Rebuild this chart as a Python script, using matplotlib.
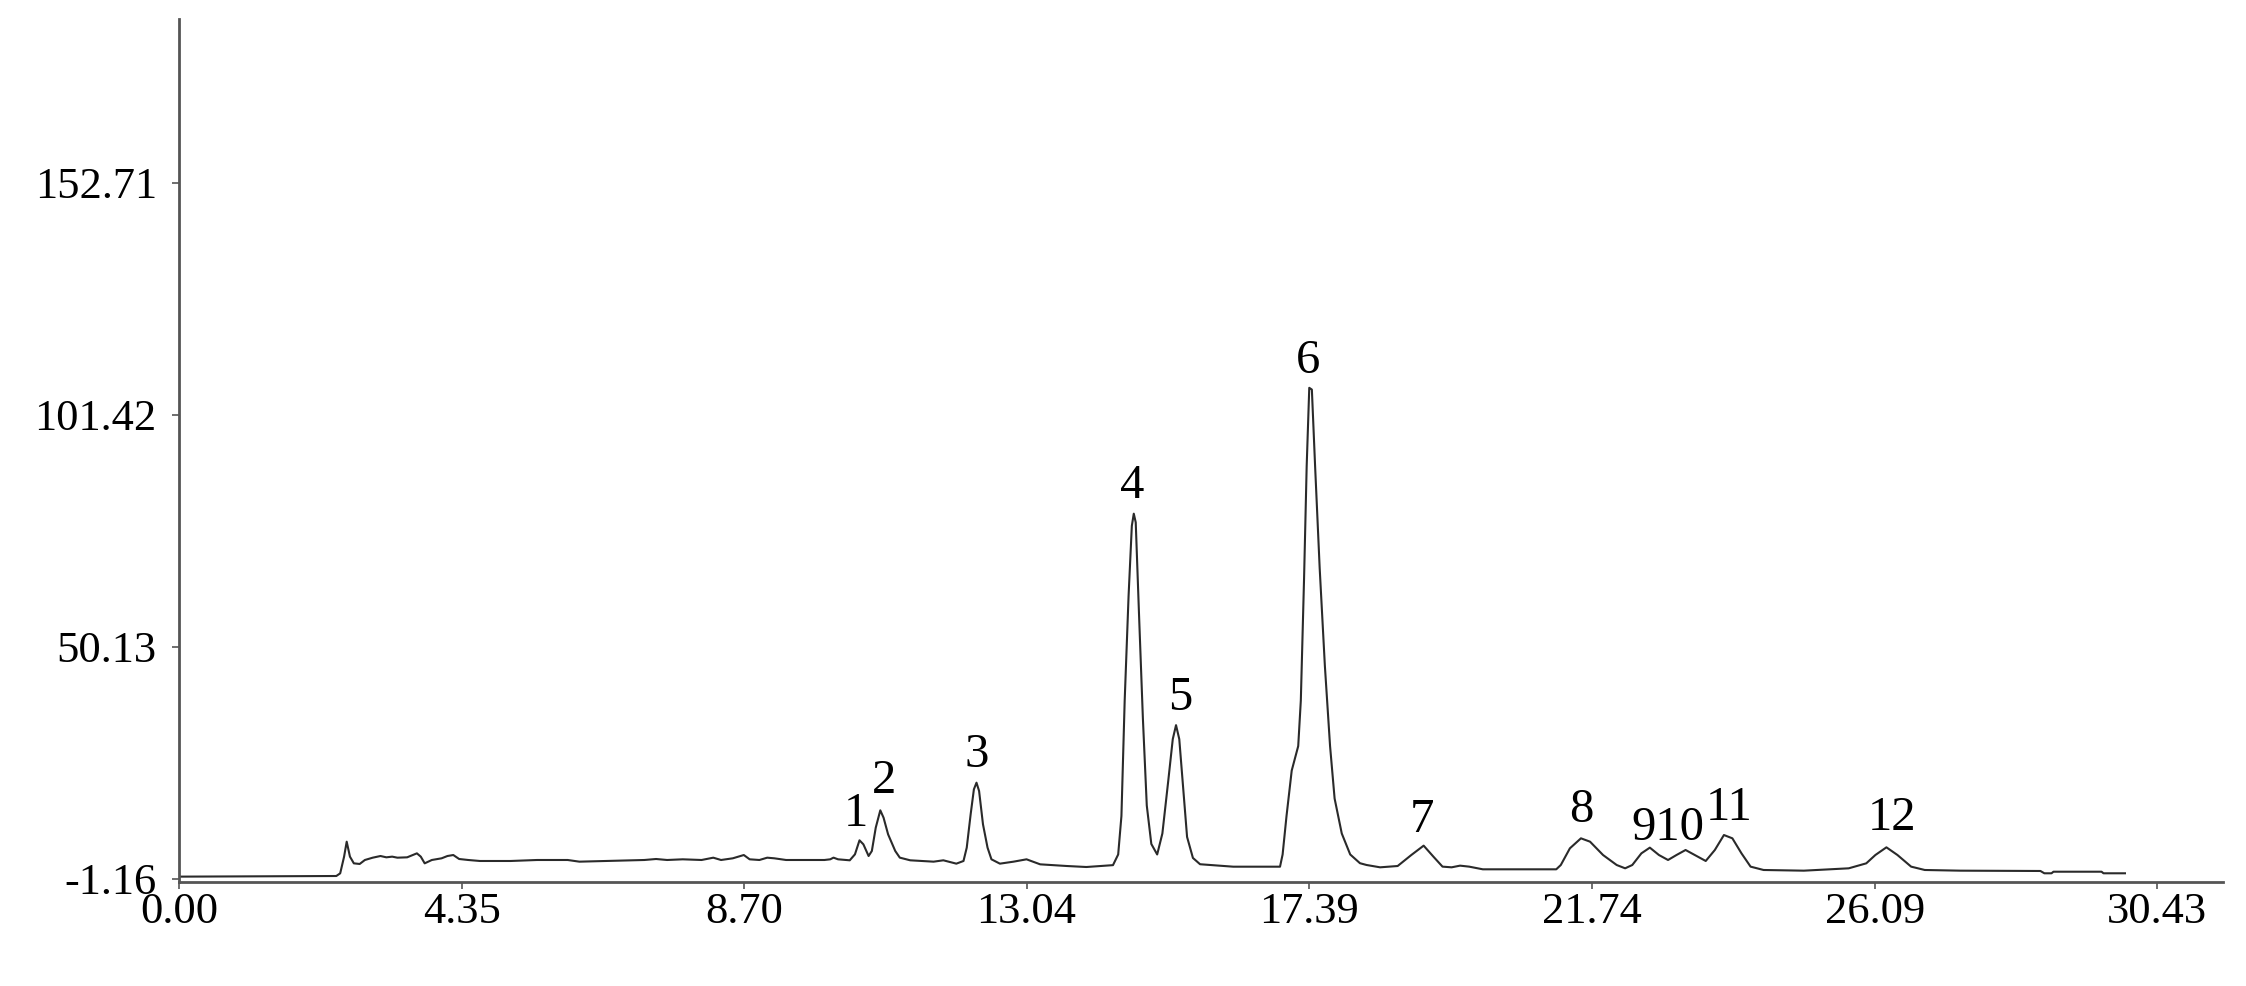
import matplotlib
matplotlib.use("Agg")
import matplotlib.pyplot as plt

plt.rcParams['font.family'] = ['Liberation Serif', 'DejaVu Serif']

# retention time (min) and detector signal
time = [0.00, 2.42, 2.48, 2.54, 2.58, 2.63, 2.69, 2.78, 2.86, 2.98, 3.10, 3.19,
        3.28, 3.36, 3.51, 3.66, 3.72, 3.78, 3.89, 4.04, 4.13, 4.22, 4.31, 4.45,
        4.63, 5.10, 5.51, 5.98, 6.16, 6.57, 7.16, 7.34, 7.51, 7.75, 8.04, 8.22,
        8.34, 8.52, 8.69, 8.78, 8.93, 9.05, 9.16, 9.34, 9.93,
        10.02, 10.07, 10.14, 10.32, 10.40, 10.47, 10.53, 10.61, 10.66, 10.72,
        10.79, 10.84, 10.91, 11.02, 11.09, 11.25, 11.61, 11.76, 11.96, 12.07,
        12.12, 12.18, 12.23, 12.27, 12.31, 12.37, 12.44, 12.50, 12.63, 12.84,
        13.04, 13.14, 13.25, 13.66, 13.96,
        14.37, 14.45, 14.50, 14.55, 14.61, 14.66, 14.69, 14.72, 14.77, 14.83,
        14.89, 14.96, 15.05, 15.13, 15.22, 15.29, 15.34, 15.39, 15.45, 15.51,
        15.60, 15.71, 16.22, 16.94, 16.98, 17.04, 17.12, 17.22, 17.26, 17.31,
        17.35, 17.39, 17.43, 17.48, 17.55, 17.63, 17.71, 17.78, 17.89, 18.02,
        18.17, 18.27,
        18.48, 18.75, 18.96, 19.15, 19.30, 19.44, 19.58, 19.71, 19.85, 20.06,
        20.54, 21.19, 21.26, 21.40, 21.57, 21.71, 21.91, 22.12, 22.25, 22.36,
        22.50, 22.63, 22.77, 22.91, 23.04, 23.18, 23.32, 23.49, 23.63, 23.77,
        23.90, 24.04, 24.18, 24.38, 25.00, 25.69, 25.96, 26.10, 26.27, 26.44,
        26.65, 26.86, 27.41, 28.64, 28.70, 28.81, 28.84, 29.58, 29.61, 29.94]

signal = [-0.64, -0.50, 0.09, 3.78, 7.09, 3.78, 2.30, 2.16, 3.04, 3.55, 3.92, 3.63,
          3.78, 3.55, 3.63, 4.51, 3.78, 2.30, 3.04, 3.41, 3.92, 4.14, 3.26, 3.04,
          2.82, 2.82, 3.04, 3.04, 2.67, 2.82, 3.04, 3.26, 3.04, 3.19, 3.04, 3.55,
          3.04, 3.41, 4.14, 3.19, 3.04, 3.55, 3.41, 3.04, 3.04,
          3.19, 3.56, 3.19, 2.97, 4.29, 7.39, 6.50, 3.92, 5.03, 10.19,
          14.02, 12.40, 8.71, 5.03, 3.56, 2.97, 2.67, 2.97, 2.23, 2.82,
          5.77, 13.13, 18.66, 20.13, 18.29, 10.92, 5.77, 3.19, 2.23, 2.67,
          3.19, 2.67, 2.08, 1.71, 1.49,
          1.90, 4.26, 12.76, 38.26, 61.44, 76.90, 79.60, 77.67, 57.58, 34.40,
          15.08, 6.58, 4.26, 8.90, 20.49, 29.76, 32.85, 29.76, 18.94, 8.13,
          3.49, 2.10, 1.56, 1.56, 4.26, 12.76, 22.81, 28.22, 38.26, 65.31,
          90.03, 107.42, 107.03, 90.03, 67.62, 45.99, 28.22, 16.62, 8.90, 4.26,
          2.33, 1.94,
          1.42, 1.71, 4.14, 6.21, 3.78, 1.57, 1.42, 1.79, 1.57, 0.98,
          0.98, 0.98, 1.93, 5.62, 7.83, 7.09, 4.14, 1.93, 1.20, 1.93,
          4.51, 5.77, 4.14, 3.04, 4.14, 5.25, 4.14, 2.82, 5.25, 8.56,
          7.83, 4.51, 1.57, 0.83, 0.68, 1.20, 2.30, 4.14, 5.84, 4.14,
          1.57, 0.83, 0.68, 0.61, 0.10, 0.10, 0.45, 0.45, 0.10, 0.10]

peak_names = ['1', '2', '3', '4', '5', '6', '7', '8', '910', '11', '12']
peak_label_t = [10.41, 10.85, 12.27, 14.67, 15.40, 17.37, 19.13, 21.58, 22.91, 23.85, 26.36]
peak_label_v = [10.6, 17.8, 23.7, 83.0, 36.2, 110.8, 9.3, 11.5, 7.5, 11.9, 9.7]

xticks = [0.00, 4.35, 8.70, 13.04, 17.39, 21.74, 26.09, 30.43]
xtick_labels = ['0.00', '4.35', '8.70', '13.04', '17.39', '21.74', '26.09', '30.43']
yticks = [-1.16, 50.13, 101.42, 152.71]
ytick_labels = ['-1.16', '50.13', '101.42', '152.71']

fig = plt.figure(figsize=(22.46, 9.86), dpi=100)
ax = fig.add_axes([0.0797, 0.1055, 0.9101, 0.875])

ax.plot(time, signal, color='#2a2a2a', lw=1.5)

for name, t, v in zip(peak_names, peak_label_t, peak_label_v):
    ax.text(t, v, name, ha='center', va='baseline', fontsize=35, color='black')

ax.set_xlim(0, 31.45)
ax.set_ylim(-1.82, 188.9)
ax.set_xticks(xticks)
ax.set_xticklabels(xtick_labels)
ax.set_yticks(yticks)
ax.set_yticklabels(ytick_labels)

for side in ['top', 'right']:
    ax.spines[side].set_visible(False)
for side in ['left', 'bottom']:
    ax.spines[side].set_color('#555555')
    ax.spines[side].set_linewidth(2.0)

ax.tick_params(axis='both', direction='out', length=5, width=1.2,
               color='#555555', labelsize=32, labelcolor='black')
ax.tick_params(axis='y', pad=11)
ax.tick_params(axis='x', pad=2)

fig.savefig('out.png', dpi=100, facecolor='white')
